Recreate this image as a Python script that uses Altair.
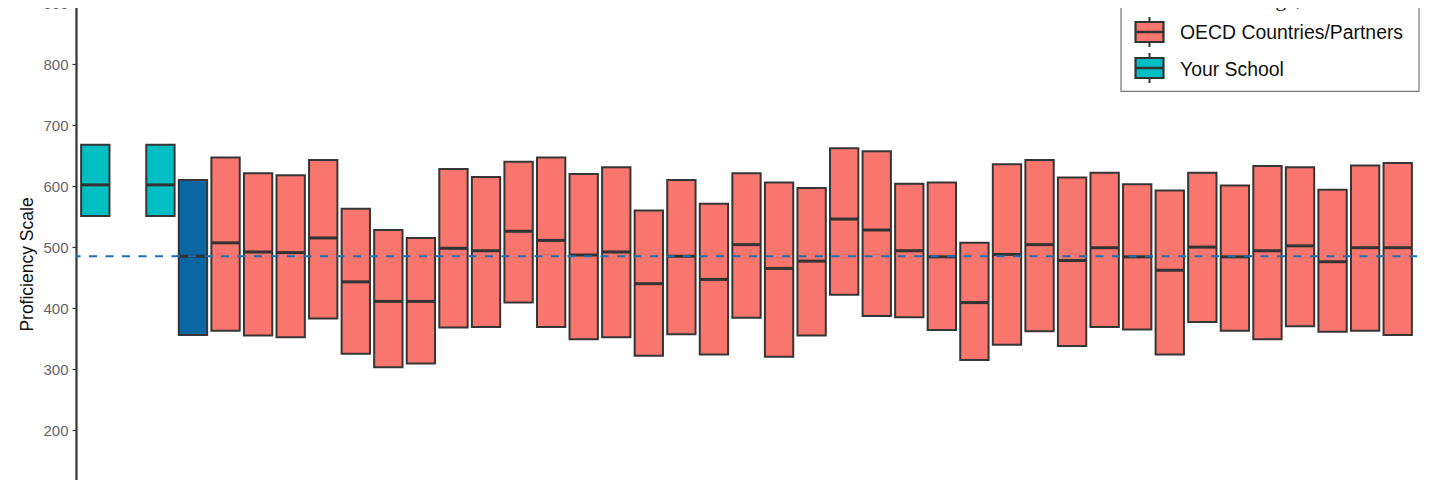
import altair as alt
import pandas as pd

# ---- data ----
slots = ["1", "2", "3", "4", "5", "6", "7", "8", "9", "10",
         "11", "12", "13", "14", "15", "16", "17", "18", "19", "20",
         "21", "22", "23", "24", "25", "26", "27", "28", "29", "30",
         "31", "32", "33", "34", "35", "36", "37", "38", "39", "40", "41"]

# slot "2" is an empty category
box_slots = ["1", "3", "4", "5", "6", "7", "8", "9", "10",
             "11", "12", "13", "14", "15", "16", "17", "18", "19", "20",
             "21", "22", "23", "24", "25", "26", "27", "28", "29", "30",
             "31", "32", "33", "34", "35", "36", "37", "38", "39", "40", "41"]
groups = (["Your School", "Your School", "OECD average"]
          + ["OECD Countries/Partners"] * 37)
q3 = [668, 668, 610,
      647, 621, 618, 643, 563, 528, 515, 628, 615, 640, 647, 620, 631, 560,
      610, 571, 621, 606, 597, 662, 657, 604, 606, 507, 636, 643, 614, 622,
      603, 593, 622, 601, 633, 631, 594, 634, 638]
medians = [602, 602, 485,
           507, 492, 491, 515, 443, 411, 411, 498, 494, 526, 511, 487, 492, 440,
           485, 447, 504, 465, 477, 546, 528, 494, 484, 409, 488, 504, 478, 499,
           484, 462, 500, 484, 494, 502, 476, 499, 499]
q1 = [551, 551, 356,
      363, 355, 352, 383, 325, 303, 309, 368, 369, 409, 369, 349, 352, 322,
      357, 324, 384, 320, 355, 422, 387, 385, 364, 315, 340, 362, 338, 369,
      365, 324, 377, 363, 349, 370, 361, 363, 356]

oecd_average = [485]
y_ticks = [200, 300, 400, 500, 600, 700, 800, 900]

group_names = ["Your School", "OECD average", "OECD Countries/Partners"]
group_colors = ["#00BFC4", "#0A67A3", "#F8766D"]

legend_labels = ["OECD average, PISA 2022", "OECD Countries/Partners", "Your School"]

df = pd.DataFrame({"slot": box_slots, "group": groups, "q1": q1,
                   "median": medians, "q3": q3})
avg_df = pd.DataFrame({"avg": oecd_average})

x_enc = alt.X("slot:N", sort=slots,
              scale=alt.Scale(domain=slots, paddingInner=0, paddingOuter=0.093),
              axis=None)
y_scale = alt.Scale(domain=[100, 920], nice=False, zero=False)

boxes = alt.Chart(df).mark_bar(
    width=alt.RelativeBandSize(0.87), stroke="#363636", strokeWidth=2, opacity=1
).encode(
    x=x_enc,
    y=alt.Y("q1:Q", scale=y_scale, title="Proficiency Scale",
            axis=alt.Axis(values=y_ticks, grid=False, domainColor="#333333",
                          domainWidth=2.2, tickColor="#333333", tickSize=4,
                          tickWidth=1.2, labelFontSize=15, labelColor="#666666",
                          labelFont="Liberation Sans", labelPadding=4,
                          titleFont="Liberation Sans", titleFontSize=17.5,
                          titleFontWeight="normal", titleColor="#111111",
                          titleAngle=-90, titleX=-49, titleY=273,
                          titleAlign="center", titleBaseline="middle")),
    y2="q3:Q",
    color=alt.Color("group:N", scale=alt.Scale(domain=group_names, range=group_colors),
                    legend=None),
)

meds = alt.Chart(df).mark_tick(color="#333333", thickness=3, size=28.5, opacity=1).encode(
    x=x_enc,
    y=alt.Y("median:Q", scale=y_scale),
)

avg_line = alt.Chart(avg_df).mark_rule(
    color="#1C6FB5", strokeWidth=2, strokeDash=[8, 8.5]
).encode(y=alt.Y("avg:Q", scale=y_scale))

one = alt.Data(values=[{"k": 1}])

leg_box = alt.Chart(one).mark_rect(fill="white", stroke="#777777", strokeWidth=1.2).encode(
    x=alt.value(1045), x2=alt.value(1343), y=alt.value(-30), y2=alt.value(100.3))

leg_dash = alt.Chart(one).mark_rule(color="#333333", strokeWidth=2, strokeDash=[4, 3]).encode(
    x=alt.value(1056), x2=alt.value(1071), y=alt.value(10.5))

leg_text_serif = alt.Chart(one).mark_text(
    text=legend_labels[0], font="Liberation Serif", fontSize=21.5, align="left",
    baseline="alphabetic", color="#111111"
).encode(x=alt.value(1089), y=alt.value(14.5))

def sym(top, color):
    whisk = alt.Chart(one).mark_rule(color="#333333", strokeWidth=2).encode(
        x=alt.value(1073.5), y=alt.value(top), y2=alt.value(top + 30))
    rect = alt.Chart(one).mark_rect(fill=color, stroke="#333333", strokeWidth=2.2).encode(
        x=alt.value(1059.5), x2=alt.value(1087.5), y=alt.value(top + 5), y2=alt.value(top + 25))
    med = alt.Chart(one).mark_rule(color="#333333", strokeWidth=2.5).encode(
        x=alt.value(1059.5), x2=alt.value(1087.5), y=alt.value(top + 15))
    return [whisk, rect, med]

leg_red = sym(26, group_colors[2])
leg_teal = sym(62, group_colors[0])

leg_t1 = alt.Chart(one).mark_text(
    text=legend_labels[1], font="Liberation Sans", fontSize=19.4, align="left",
    baseline="alphabetic", color="#111111"
).encode(x=alt.value(1104), y=alt.value(48))
leg_t2 = alt.Chart(one).mark_text(
    text=legend_labels[2], font="Liberation Sans", fontSize=19.4, align="left",
    baseline="alphabetic", color="#111111"
).encode(x=alt.value(1104), y=alt.value(85))

chart = alt.layer(
    boxes, meds, avg_line, leg_box, leg_dash, leg_text_serif,
    *leg_red, *leg_teal, leg_t1, leg_t2
).properties(
    width=1341, height=500,
    autosize=alt.AutoSizeParams(type="none"),
    padding={"left": 68, "top": -17, "right": 15, "bottom": 0},
    background="white",
).configure_view(stroke=None)

chart.save("out.html", embed_options={"renderer": "svg", "actions": False})
